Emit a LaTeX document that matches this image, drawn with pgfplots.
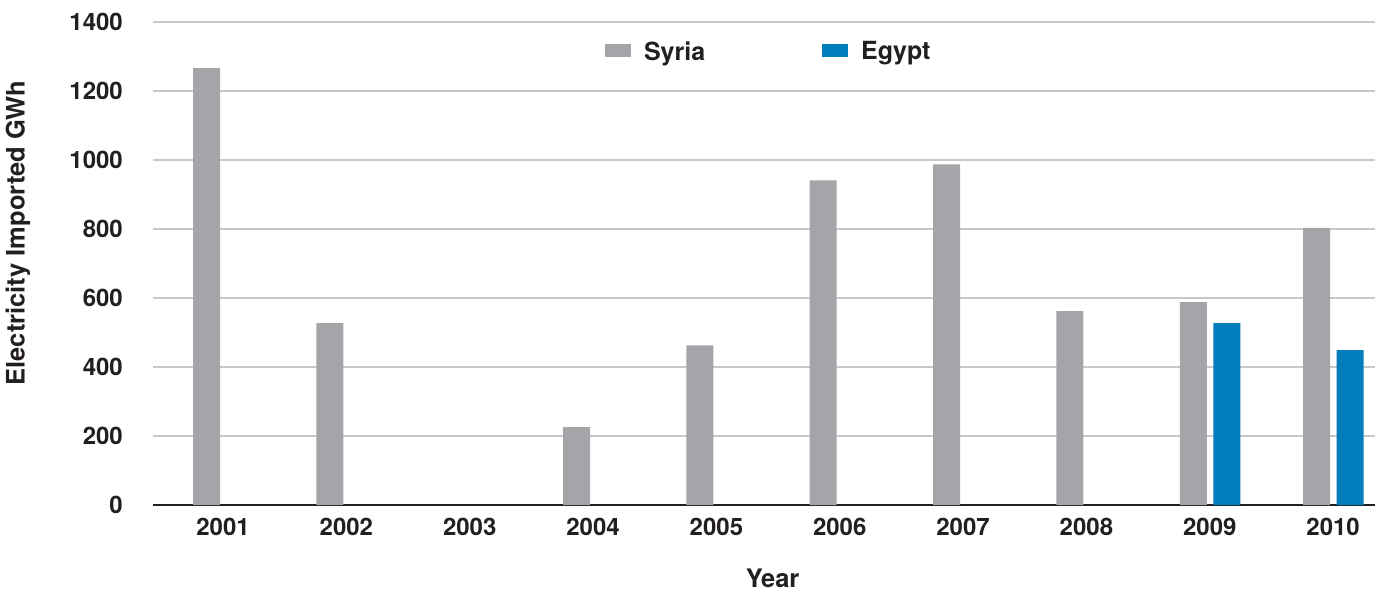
\documentclass[border=0pt]{standalone}
\usepackage{pgfplots}
\pgfplotsset{compat=1.18}
\usepackage{fontspec}
\setmainfont{TeX Gyre Heros}
\definecolor{syria}{HTML}{A6A4A8}
\definecolor{egypt}{HTML}{007DBA}
\definecolor{gridc}{HTML}{C8C7CB}
\definecolor{txt}{HTML}{231F20}
\pgfplotsset{mylegend/.style={legend image code/.code={\path[fill=none,draw=none] (0pt,0pt) rectangle (39pt,13pt); \fill[#1,draw=none] (0pt,-6pt) rectangle (26pt,7pt);}}}
\begin{document}
\begin{tikzpicture}
\useasboundingbox (0,0) rectangle (1384pt,592pt);
\begin{axis}[
  at={(153pt,87pt)}, anchor=south west,
  scale only axis, width=1222pt, height=483pt,
  xmin=-0.568, xmax=9.34, ymin=0, ymax=1400,
  xtick={0,1,2,3,4,5,6,7,8,9},
  xticklabels={2001,2002,2003,2004,2005,2006,2007,2008,2009,2010},
  ytick={200,400,600,800,1000,1200,1400},
  extra y ticks={0}, extra y tick style={grid=none},
  ymajorgrids, major grid style={gridc, line width=2.5pt},
  axis x line*=bottom, axis y line*=left,
  x axis line style={txt, line width=2.5pt, -},
  y axis line style={draw=none},
  tick style={draw=none}, major tick length=0pt,
  /pgf/number format/assume math mode=true,
  /pgf/number format/1000 sep={},
  ticklabel style={font=\fontsize{24}{28}\selectfont\bfseries, text=txt},
  yticklabel style={anchor=east, inner sep=0pt, xshift=-30pt},
  xticklabel style={anchor=north, inner sep=0pt, yshift=-13pt},
  xlabel={Year}, ylabel={Electricity Imported GWh},
  label style={font=\fontsize{25.5}{30}\selectfont\bfseries, text=txt},
  xlabel style={at={(axis description cs:0.507,0)}, anchor=north, inner sep=0pt, yshift=-64pt},
  ylabel style={at={(axis description cs:-0.1105,0.563)}, anchor=center, inner sep=0pt},
  legend columns=2,
  legend style={at={(axis description cs:0.3699,0.942)}, anchor=west, draw=none, fill=none,
    inner sep=0pt, outer sep=0pt, font=\fontsize{25}{30}\selectfont\bfseries, text=txt,
    nodes={inner sep=0pt},
    /tikz/every even column/.append style={column sep=117pt}},
]
\addplot[ybar, bar width=27pt, bar shift=-16.5pt, fill=syria, draw=none, mylegend]
  coordinates {(0,1266) (1,527) (3,226) (4,463) (5,941) (6,987) (7,562) (8,588) (9,803)};
\addplot[ybar, bar width=27pt, bar shift=17pt, fill=egypt, draw=none, mylegend]
  coordinates {(8,527) (9,449)};
\legend{Syria, Egypt}
\end{axis}
\end{tikzpicture}
\end{document}
